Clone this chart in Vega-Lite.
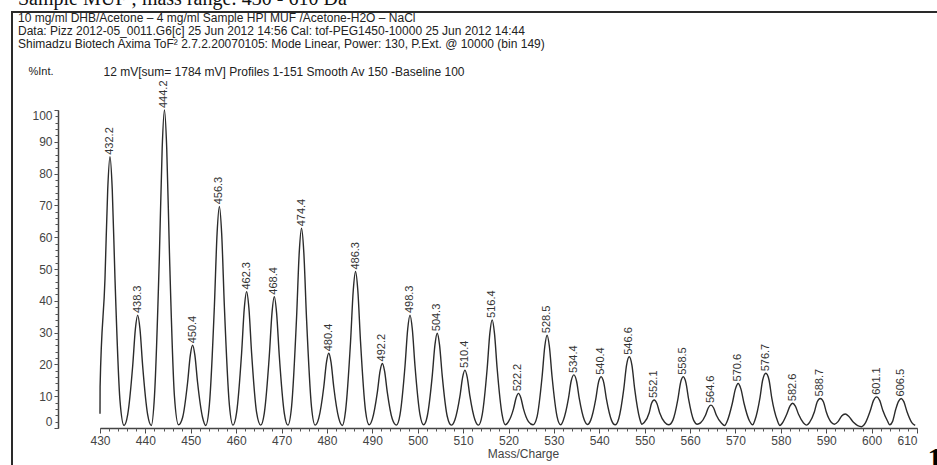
{
  "$schema": "https://vega.github.io/schema/vega-lite/v6.json",
  "width": 940,
  "height": 470,
  "autosize": "none",
  "padding": {"left": 12, "top": 12, "right": 0, "bottom": 0},
  "background": "white",
  "view": {"stroke": "#2a2a2a", "strokeWidth": 2},
  "config": {"font": "Liberation Sans", "axis": {"grid": false, "labelFont": "Liberation Sans", "titleFont": "Liberation Sans"}},
  "title": {
    "text": "Sample MUF ; mass range: 430 - 610 Da",
    "subtitle": [
      "10 mg/ml DHB/Acetone – 4 mg/ml Sample HPI MUF /Acetone-H2O – NaCl",
      "Data: Pizz 2012-05_0011.G6[c] 25 Jun 2012 14:56 Cal: tof-PEG1450-10000 25 Jun 2012 14:44",
      "Shimadzu Biotech Axima ToF² 2.7.2.20070105: Mode Linear, Power: 130, P.Ext. @ 10000 (bin 149)"
    ],
    "anchor": "start",
    "frame": "group",
    "orient": "top",
    "offset": 0,
    "dx": 6,
    "dy": 38,
    "font": "Liberation Serif",
    "fontSize": 20,
    "fontWeight": "normal",
    "color": "#111",
    "subtitleFont": "Liberation Sans",
    "subtitleFontSize": 12,
    "subtitleLineHeight": 12.8,
    "subtitleColor": "#222",
    "subtitlePadding": 4
  },
  "datasets": {
    "spectrum": [
      {"mz": 430.0, "i": 4.5}, {"mz": 430.02, "i": 13}, {"mz": 431.1, "i": 47}, {"mz": 431.7, "i": 75}, {"mz": 432.2, "i": 85.3}, {"mz": 432.7, "i": 75}, {"mz": 433.3, "i": 47}, {"mz": 434.4, "i": 8.7}, {"mz": 435.3, "i": 0.8},
      {"mz": 436.1, "i": 4.2}, {"mz": 437.2, "i": 19.5}, {"mz": 437.8, "i": 31.2}, {"mz": 438.3, "i": 35.5}, {"mz": 438.8, "i": 31.2}, {"mz": 439.4, "i": 19.5}, {"mz": 440.5, "i": 4.2}, {"mz": 441.3, "i": 0.8},
      {"mz": 442.0, "i": 10}, {"mz": 443.1, "i": 55}, {"mz": 443.7, "i": 88}, {"mz": 444.2, "i": 100}, {"mz": 444.7, "i": 88}, {"mz": 445.3, "i": 55}, {"mz": 446.4, "i": 10}, {"mz": 447.3, "i": 1},
      {"mz": 448.2, "i": 3.3}, {"mz": 449.3, "i": 14.3}, {"mz": 449.9, "i": 22.9}, {"mz": 450.4, "i": 26}, {"mz": 450.9, "i": 22.9}, {"mz": 451.5, "i": 14.3}, {"mz": 452.6, "i": 3.3}, {"mz": 453.3, "i": 0.8},
      {"mz": 454.1, "i": 7.3}, {"mz": 455.2, "i": 38.3}, {"mz": 455.8, "i": 61.3}, {"mz": 456.3, "i": 69.7}, {"mz": 456.8, "i": 61.3}, {"mz": 457.4, "i": 38.3}, {"mz": 458.5, "i": 7.3}, {"mz": 459.3, "i": 0.9},
      {"mz": 460.1, "i": 4.9}, {"mz": 461.2, "i": 23.6}, {"mz": 461.8, "i": 37.8}, {"mz": 462.3, "i": 42.9}, {"mz": 462.8, "i": 37.8}, {"mz": 463.4, "i": 23.6}, {"mz": 464.5, "i": 4.9}, {"mz": 465.4, "i": 0.9},
      {"mz": 466.2, "i": 4.7}, {"mz": 467.3, "i": 22.7}, {"mz": 467.9, "i": 36.3}, {"mz": 468.4, "i": 41.3}, {"mz": 468.9, "i": 36.3}, {"mz": 469.5, "i": 22.7}, {"mz": 470.6, "i": 4.7}, {"mz": 471.4, "i": 0.9},
      {"mz": 472.2, "i": 6.6}, {"mz": 473.3, "i": 34.5}, {"mz": 473.9, "i": 55.3}, {"mz": 474.4, "i": 62.8}, {"mz": 474.9, "i": 55.3}, {"mz": 475.5, "i": 34.5}, {"mz": 476.6, "i": 6.6}, {"mz": 477.4, "i": 0.9},
      {"mz": 478.2, "i": 3.1}, {"mz": 479.3, "i": 12.9}, {"mz": 479.9, "i": 20.7}, {"mz": 480.4, "i": 23.5}, {"mz": 480.9, "i": 20.7}, {"mz": 481.5, "i": 12.9}, {"mz": 482.6, "i": 3.1}, {"mz": 483.4, "i": 0.8},
      {"mz": 484.1, "i": 5.4}, {"mz": 485.2, "i": 27.1}, {"mz": 485.8, "i": 43.3}, {"mz": 486.3, "i": 49.2}, {"mz": 486.8, "i": 43.3}, {"mz": 487.4, "i": 27.1}, {"mz": 488.5, "i": 5.4}, {"mz": 489.3, "i": 1},
      {"mz": 490.0, "i": 2.8}, {"mz": 491.1, "i": 11.2}, {"mz": 491.7, "i": 17.9}, {"mz": 492.2, "i": 20.3}, {"mz": 492.7, "i": 17.9}, {"mz": 493.3, "i": 11.2}, {"mz": 494.4, "i": 2.8}, {"mz": 495.3, "i": 0.9},
      {"mz": 496.1, "i": 4.2}, {"mz": 497.2, "i": 19.5}, {"mz": 497.8, "i": 31.2}, {"mz": 498.3, "i": 35.5}, {"mz": 498.8, "i": 31.2}, {"mz": 499.4, "i": 19.5}, {"mz": 500.5, "i": 4.2}, {"mz": 501.3, "i": 1},
      {"mz": 502.1, "i": 3.7}, {"mz": 503.2, "i": 16.4}, {"mz": 503.8, "i": 26.2}, {"mz": 504.3, "i": 29.8}, {"mz": 504.8, "i": 26.2}, {"mz": 505.4, "i": 16.4}, {"mz": 506.5, "i": 3.7}, {"mz": 507.4, "i": 0.9},
      {"mz": 508.2, "i": 2.6}, {"mz": 509.3, "i": 10}, {"mz": 509.9, "i": 16}, {"mz": 510.4, "i": 18.2}, {"mz": 510.9, "i": 16}, {"mz": 511.5, "i": 10}, {"mz": 512.6, "i": 2.6}, {"mz": 513.4, "i": 0.9},
      {"mz": 514.2, "i": 4.1}, {"mz": 515.3, "i": 18.7}, {"mz": 515.9, "i": 29.9}, {"mz": 516.4, "i": 34}, {"mz": 516.9, "i": 29.9}, {"mz": 517.5, "i": 18.7}, {"mz": 518.6, "i": 4.1}, {"mz": 519.3, "i": 1},
      {"mz": 520.0, "i": 2}, {"mz": 521.1, "i": 6}, {"mz": 521.7, "i": 9.6}, {"mz": 522.2, "i": 10.9}, {"mz": 522.7, "i": 9.6}, {"mz": 523.3, "i": 6}, {"mz": 524.4, "i": 2}, {"mz": 525.4, "i": 1},
      {"mz": 526.3, "i": 3.6}, {"mz": 527.4, "i": 16.1}, {"mz": 528.0, "i": 25.7}, {"mz": 528.5, "i": 29.2}, {"mz": 529.0, "i": 25.7}, {"mz": 529.6, "i": 16.1}, {"mz": 530.7, "i": 3.6}, {"mz": 531.5, "i": 1},
      {"mz": 532.1, "i": 2.5}, {"mz": 533.2, "i": 9.2}, {"mz": 533.8, "i": 14.7}, {"mz": 534.4, "i": 16.7}, {"mz": 535.0, "i": 14.7}, {"mz": 535.6, "i": 9.2}, {"mz": 536.7, "i": 2.5}, {"mz": 537.4, "i": 1.1},
      {"mz": 538.1, "i": 2.4}, {"mz": 539.2, "i": 8.9}, {"mz": 539.8, "i": 14.2}, {"mz": 540.4, "i": 16.1}, {"mz": 541.0, "i": 14.2}, {"mz": 541.6, "i": 8.9}, {"mz": 542.7, "i": 2.4}, {"mz": 543.5, "i": 1},
      {"mz": 544.3, "i": 3}, {"mz": 545.4, "i": 12.3}, {"mz": 546.0, "i": 19.7}, {"mz": 546.6, "i": 22.4}, {"mz": 547.2, "i": 19.7}, {"mz": 547.8, "i": 12.3}, {"mz": 548.9, "i": 3}, {"mz": 549.4, "i": 1.2},
      {"mz": 549.9, "i": 1.7}, {"mz": 551.0, "i": 4.8}, {"mz": 551.5, "i": 7.7}, {"mz": 552.1, "i": 8.8}, {"mz": 552.7, "i": 7.7}, {"mz": 553.3, "i": 4.8}, {"mz": 554.4, "i": 1.8}, {"mz": 555.3, "i": 1},
      {"mz": 556.2, "i": 2.4}, {"mz": 557.3, "i": 8.9}, {"mz": 557.9, "i": 14.2}, {"mz": 558.5, "i": 16.1}, {"mz": 559.1, "i": 14.2}, {"mz": 559.7, "i": 8.9}, {"mz": 560.8, "i": 2.4}, {"mz": 561.6, "i": 1.2},
      {"mz": 562.3, "i": 1.6}, {"mz": 563.4, "i": 4}, {"mz": 564.0, "i": 6.3}, {"mz": 564.6, "i": 7.2}, {"mz": 565.2, "i": 6.3}, {"mz": 565.8, "i": 4}, {"mz": 566.9, "i": 1.6}, {"mz": 567.6, "i": 0.8},
      {"mz": 568.2, "i": 2.2}, {"mz": 569.3, "i": 7.7}, {"mz": 570.0, "i": 12.3}, {"mz": 570.6, "i": 14}, {"mz": 571.2, "i": 12.3}, {"mz": 571.9, "i": 7.7}, {"mz": 573.1, "i": 2.2}, {"mz": 573.8, "i": 1},
      {"mz": 574.3, "i": 2.5}, {"mz": 575.4, "i": 9.5}, {"mz": 576.0, "i": 15.1}, {"mz": 576.7, "i": 17.2}, {"mz": 577.4, "i": 15.1}, {"mz": 578.0, "i": 9.5}, {"mz": 579.2, "i": 2.5}, {"mz": 579.8, "i": 0.8},
      {"mz": 580.3, "i": 1.5}, {"mz": 581.3, "i": 4.3}, {"mz": 582.0, "i": 6.9}, {"mz": 582.6, "i": 7.8}, {"mz": 583.2, "i": 6.9}, {"mz": 583.9, "i": 4.3}, {"mz": 585.0, "i": 1.6}, {"mz": 585.7, "i": 0.9},
      {"mz": 586.3, "i": 1.7}, {"mz": 587.4, "i": 5.1}, {"mz": 588.0, "i": 8.2}, {"mz": 588.7, "i": 9.3}, {"mz": 589.4, "i": 8.2}, {"mz": 590.0, "i": 5.1}, {"mz": 591.1, "i": 1.8}, {"mz": 591.8, "i": 1.2},
      {"mz": 592.6, "i": 2}, {"mz": 593.4, "i": 3.8}, {"mz": 594.2, "i": 4.4}, {"mz": 595.0, "i": 3.6}, {"mz": 596.0, "i": 1.8}, {"mz": 597.8, "i": 0.4},
      {"mz": 598.6, "i": 1.5}, {"mz": 599.7, "i": 5.4}, {"mz": 600.4, "i": 8.6}, {"mz": 601.1, "i": 9.8}, {"mz": 601.8, "i": 8.6}, {"mz": 602.5, "i": 5.4}, {"mz": 603.5, "i": 2.2}, {"mz": 604.0, "i": 1},
      {"mz": 604.6, "i": 2}, {"mz": 605.3, "i": 5.8}, {"mz": 605.9, "i": 8.3}, {"mz": 606.5, "i": 9.3}, {"mz": 607.1, "i": 8.3}, {"mz": 607.8, "i": 5.1}, {"mz": 608.9, "i": 1.6}, {"mz": 609.6, "i": 0.8}
    ],
    "peaks": [
      {"mz": 432.2, "i": 85.3, "label": "432.2"}, {"mz": 438.3, "i": 35.5, "label": "438.3"}, {"mz": 444.2, "i": 100, "label": "444.2"},
      {"mz": 450.4, "i": 26, "label": "450.4"}, {"mz": 456.3, "i": 69.7, "label": "456.3"}, {"mz": 462.3, "i": 42.9, "label": "462.3"},
      {"mz": 468.4, "i": 41.3, "label": "468.4"}, {"mz": 474.4, "i": 62.8, "label": "474.4"}, {"mz": 480.4, "i": 23.5, "label": "480.4"},
      {"mz": 486.3, "i": 49.2, "label": "486.3"}, {"mz": 492.2, "i": 20.3, "label": "492.2"}, {"mz": 498.3, "i": 35.5, "label": "498.3"},
      {"mz": 504.3, "i": 29.8, "label": "504.3"}, {"mz": 510.4, "i": 18.2, "label": "510.4"}, {"mz": 516.4, "i": 34, "label": "516.4"},
      {"mz": 522.2, "i": 10.9, "label": "522.2"}, {"mz": 528.5, "i": 29.2, "label": "528.5"}, {"mz": 534.4, "i": 16.7, "label": "534.4"},
      {"mz": 540.4, "i": 16.1, "label": "540.4"}, {"mz": 546.6, "i": 22.4, "label": "546.6"}, {"mz": 552.1, "i": 8.8, "label": "552.1"},
      {"mz": 558.5, "i": 16.1, "label": "558.5"}, {"mz": 564.6, "i": 7.2, "label": "564.6"}, {"mz": 570.6, "i": 14, "label": "570.6"},
      {"mz": 576.7, "i": 17.2, "label": "576.7"}, {"mz": 582.6, "i": 7.8, "label": "582.6"}, {"mz": 588.7, "i": 9.3, "label": "588.7"},
      {"mz": 601.1, "i": 9.8, "label": "601.1"}, {"mz": 606.5, "i": 9.3, "label": "606.5"}
    ]
  },
  "resolve": {"axis": {"x": "independent", "y": "independent"}},
  "layer": [
    {
      "data": {"name": "spectrum"},
      "mark": {"type": "line", "interpolate": "monotone", "color": "#2b2b2b", "strokeWidth": 1.4},
      "encoding": {
        "x": {
          "field": "mz", "type": "quantitative",
          "scale": {"domain": [430, 610], "range": [88, 905], "nice": false, "zero": false},
          "axis": {
            "orient": "bottom", "offset": -54, "values": [430, 440, 450, 460, 470, 480, 490, 500, 510, 520, 530, 540, 550, 560, 570, 580, 590, 600, 610],
            "format": "d", "labelFlush": false, "labelOverlap": false,
            "labelAlign": {"condition": {"test": "datum.value === 610", "value": "right"}, "value": "center"},
            "labelFontSize": 12, "labelColor": "#444", "labelPadding": 2,
            "tickSize": 5, "tickColor": "#444", "domainColor": "#444", "domainWidth": 1.5,
            "title": "Mass/Charge", "titleFontSize": 12, "titleFontWeight": "normal", "titleColor": "#444",
            "titleX": 511, "titleY": 25, "titleBaseline": "middle", "titleAlign": "center"
          }
        },
        "y": {
          "field": "i", "type": "quantitative",
          "scale": {"domain": [0, 100], "range": [416, 98], "nice": false, "zero": false},
          "axis": {
            "orient": "left", "offset": -46, "values": [0, 10, 20, 30, 40, 50, 60, 70, 80, 90, 100],
            "labelFlush": true, "labelOverlap": false,
            "labelFontSize": 12, "labelColor": "#444", "labelPadding": 2,
            "tickSize": 4, "tickColor": "#444", "domainColor": "#444", "domainWidth": 1.5,
            "title": "%Int.", "titleAngle": 0, "titleFontSize": 11, "titleFontWeight": "normal", "titleColor": "#222",
            "titleX": -30, "titleY": 59, "titleAlign": "left", "titleBaseline": "middle"
          }
        }
      }
    },
    {
      "data": {"name": "peaks"},
      "mark": {"type": "text", "angle": 270, "align": "left", "baseline": "middle", "dx": 2, "fontSize": 11, "color": "#333"},
      "encoding": {
        "x": {
          "field": "mz", "type": "quantitative",
          "axis": {
            "orient": "bottom", "offset": -54, "tickCount": 90, "labels": false, "domain": false,
            "tickSize": 3, "tickColor": "#555",
            "title": "1", "titleFont": "Liberation Serif", "titleFontWeight": "bold", "titleFontSize": 30, "titleColor": "#000",
            "titleX": 915, "titleY": 15, "titleAlign": "left", "titleBaseline": "top"
          }
        },
        "y": {
          "field": "i", "type": "quantitative",
          "axis": {
            "orient": "left", "offset": -46, "tickCount": 50, "labels": false, "domain": false,
            "tickSize": 3, "tickColor": "#555",
            "title": "12 mV[sum= 1784 mV] Profiles 1-151 Smooth Av 150 -Baseline 100", "titleAngle": 0, "titleFontSize": 12, "titleFontWeight": "normal", "titleColor": "#222",
            "titleX": 45, "titleY": 59, "titleAlign": "left", "titleBaseline": "middle"
          }
        },
        "text": {"field": "label"}
      }
    }
  ]
}
